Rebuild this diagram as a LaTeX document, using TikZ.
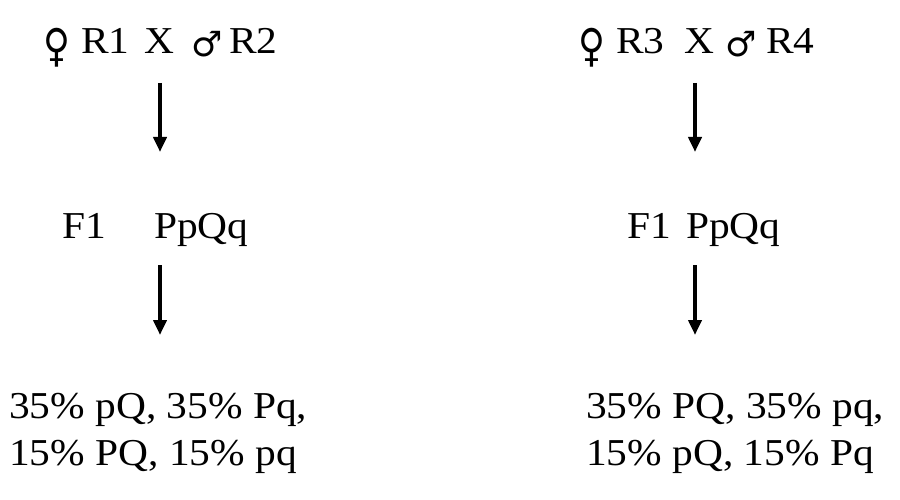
\documentclass[tikz,border=0pt]{standalone}
\usepackage{fontspec}
\setmainfont[FakeStretch=1.09]{Liberation Serif}
\newfontfamily\symfont{DejaVu Sans}
\usetikzlibrary{arrows.meta}
\newcommand{\femsym}{\scalebox{1.05}[1.3]{♀}}
\tikzset{
  txt/.style={anchor=base west, inner sep=0pt, font=\fontsize{38}{46}\selectfont},
  sym/.style={anchor=base west, inner sep=0pt, font=\symfont\fontsize{35}{46}\selectfont},
  arr/.style={line width=4pt, -{Triangle[width=13pt,length=15pt]}}
}
\begin{document}
\begin{tikzpicture}[x=1pt,y=-1pt]
\useasboundingbox (0,0) rectangle (900,500);
% left column
\node[sym] (fl) at (43,62) {\femsym};
\node[txt] (r1) at (81,54) {R1};
\node[txt] (xl) at (144,54) {X};
\node[sym] (ml) at (191,57) {♂};
\node[txt] (r2) at (229,54) {R2};
\node[txt] (f1l) at (62,238) {F1};
\node[txt] (gl) at (154,238) {PpQq};
\node[txt] (bl1) at (9,418) {35\% pQ, 35\% Pq,};
\node[txt] (bl2) at (9,465) {15\% PQ, 15\% pq};
\coordinate (a1s) at (160,83);
\coordinate (a1e) at (160,152);
\coordinate (a2s) at (160,265);
\coordinate (a2e) at (160,335);
\draw[arr] (a1s) -- (a1e);
\draw[arr] (a2s) -- (a2e);
% right column
\node[sym] (fr) at (578,62) {\femsym};
\node[txt] (r3) at (616,54) {R3};
\node[txt] (xr) at (684,54) {X};
\node[sym] (mr) at (725,57) {♂};
\node[txt] (r4) at (766,54) {R4};
\node[txt] (f1r) at (627,238) {F1};
\node[txt] (gr) at (686,238) {PpQq};
\node[txt] (br1) at (586,418) {35\% PQ, 35\% pq,};
\node[txt] (br2) at (586,465) {15\% pQ, 15\% Pq};
\coordinate (b1s) at (695,83);
\coordinate (b1e) at (695,152);
\coordinate (b2s) at (695,265);
\coordinate (b2e) at (695,335);
\draw[arr] (b1s) -- (b1e);
\draw[arr] (b2s) -- (b2e);
\end{tikzpicture}
\end{document}
